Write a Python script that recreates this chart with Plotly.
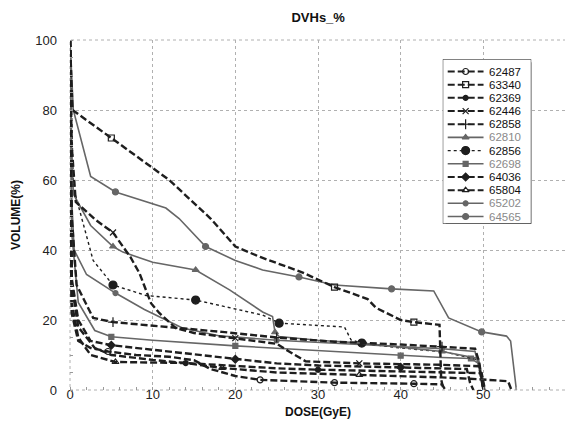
import plotly.graph_objects as go

# ---------------- data (dose in GyE, volume in %) ----------------
series_names = ["62487", "63340", "62369", "62446", "62858", "62810",
                "62856", "62698", "64036", "65804", "65202", "64565"]

x_62487 = [0, 0.2, 1, 2.5, 4.6, 8, 12, 15, 17, 20, 23, 32, 41.6, 45, 45.4]
y_62487 = [100, 22, 14, 12, 11, 10, 9.5, 8.5, 6, 4, 2.9, 2.1, 1.8, 1.6, 0]

x_63340 = [0, 0.3, 5, 12, 17, 20, 23, 28, 32, 36, 37, 40, 41.6, 44.7, 44.9, 45.2]
y_63340 = [100, 80, 72, 60, 49, 41, 38, 33.7, 29.4, 26, 23.5, 20, 19.4, 18.6, 3, 0]

x_62369 = [0, 0.2, 1, 3, 5, 10, 14, 20, 25, 30, 40, 46, 49.8, 50.2]
y_62369 = [100, 30, 18, 12, 10, 8.6, 7.7, 6.8, 6.2, 5.8, 5.4, 5.1, 4.8, 0]

x_62446 = [0, 0.2, 0.7, 3.1, 5.2, 7.3, 8.4, 9.2, 9.8, 10.8, 12.8, 15, 20, 25, 26.5, 28.5, 35, 45, 49.5, 50]
y_62446 = [100, 70, 53.7, 48.6, 45, 38, 33.4, 28.6, 24.8, 22, 17.7, 16.3, 14.8, 13.2, 11, 8.2, 7.6, 7.2, 6.8, 0]

x_62858 = [0, 0.2, 0.8, 2.8, 5.2, 13.6, 18.4, 25, 32, 40, 45, 49, 49.5, 50]
y_62858 = [100, 50, 30, 20.6, 19.4, 17.7, 16.6, 15, 13.8, 13, 12.4, 11.8, 8, 0]

x_62810 = [0, 0.2, 0.4, 2.5, 5.2, 6.4, 10, 15.2, 19.3, 23.3, 24.5, 24.8, 25.3, 30, 35.3, 40, 45, 49.4, 50]
y_62810 = [100, 70, 56, 47, 41, 39.4, 36.5, 34.3, 28.6, 22.3, 21, 16.5, 15.3, 14.2, 13.4, 12.2, 11, 9, 0]

x_62856 = [0, 0.2, 0.4, 2.8, 5.2, 9.2, 15.2, 23.3, 25.3, 33.2, 34, 35.3, 40, 45.3, 49.4, 50]
y_62856 = [100, 75, 58, 37, 30, 27, 25.7, 21.4, 19.1, 18, 14.3, 13.4, 12, 10.9, 8.6, 0]

x_62698 = [0, 0.2, 1, 3, 5, 10, 20, 30, 40, 45, 48.5, 49.5, 50.2]
y_62698 = [100, 45, 25, 17, 15.2, 14.2, 12.6, 11.2, 9.8, 9.3, 9, 7.5, 0]

x_64036 = [0, 0.2, 1, 2.5, 5, 10, 15, 20, 25, 30, 40, 45, 48, 48.4, 48.8]
y_64036 = [100, 32, 20, 14, 12.8, 11.5, 10.3, 8.8, 7.6, 7, 6.5, 6.2, 6, 2, 0]

x_65804 = [0, 0.2, 1, 2.5, 5.5, 14, 18.4, 25, 35, 45, 50, 53, 53.4]
y_65804 = [100, 25, 15, 10, 8, 7.7, 6.3, 5, 4.3, 3.6, 3, 2.5, 0]

x_65202 = [0, 0.2, 0.5, 2, 5.5, 9, 13.6, 18, 25, 30, 35, 40, 45, 49, 49.5, 50]
y_65202 = [100, 55, 40, 33, 27.7, 23, 17.7, 15.5, 14.2, 13.6, 13, 12.5, 11.8, 11, 6, 0]

x_64565 = [0, 0.4, 2.5, 5.5, 11.6, 13.2, 16.4, 20, 23.3, 27.7, 32, 35.3, 38.9, 44, 45.8, 49.8, 52.8, 53.3, 54]
y_64565 = [100, 80, 61, 56.6, 52, 49, 41, 37, 34.3, 32.3, 30, 29.4, 28.9, 28.3, 20.6, 16.6, 15.4, 14, 0]

x_ticks = [0, 10, 20, 30, 40, 50, 60]
y_ticks = [0, 20, 40, 60, 80, 100]

data = {
    "62487": (x_62487, y_62487), "63340": (x_63340, y_63340),
    "62369": (x_62369, y_62369), "62446": (x_62446, y_62446),
    "62858": (x_62858, y_62858), "62810": (x_62810, y_62810),
    "62856": (x_62856, y_62856), "62698": (x_62698, y_62698),
    "64036": (x_64036, y_64036), "65804": (x_65804, y_65804),
    "65202": (x_65202, y_65202), "64565": (x_64565, y_64565),
}

# ---------------- styles ----------------
BLK = "#1e1e1e"
GRY = "#666666"
GRID = "#b0b0b0"
FONT = "Liberation Sans, Arial"
styles = {
    "62487": dict(color=BLK, dash="7px,3px", width=2.4, symbol="circle-open", size=6, gray=False, marks=[4, 10, 11, 12]),
    "63340": dict(color=BLK, dash="7px,3px", width=2.4, symbol="square-open", size=6, gray=False, marks=[2, 8, 12]),
    "62369": dict(color=BLK, dash="7px,3px", width=2.4, symbol="circle", size=5, gray=False, marks=[6, 9]),
    "62446": dict(color=BLK, dash="7px,3px", width=2.4, symbol="x-thin-open", size=6, gray=False, marks=[4, 12, 16]),
    "62858": dict(color=BLK, dash="7px,3px", width=2.4, symbol="cross-thin-open", size=7, gray=False, marks=[4, 7, 10]),
    "62810": dict(color=GRY, dash="solid", width=1.6, symbol="triangle-up", size=6, gray=True, marks=[4, 7, 11, 16]),
    "62856": dict(color=BLK, dash="dot", width=1.4, symbol="circle", size=8, gray=False, marks=[4, 6, 8, 11]),
    "62698": dict(color=GRY, dash="solid", width=1.6, symbol="square", size=5, gray=True, marks=[4, 6, 8, 10]),
    "64036": dict(color=BLK, dash="7px,3px", width=2.4, symbol="diamond", size=6, gray=False, marks=[4, 7, 10]),
    "65804": dict(color=BLK, dash="7px,3px", width=2.4, symbol="triangle-up-open", size=6, gray=False, marks=[4, 6, 8]),
    "65202": dict(color=GRY, dash="solid", width=1.6, symbol="circle", size=5, gray=True, marks=[4, 8, 12]),
    "64565": dict(color=GRY, dash="solid", width=1.6, symbol="circle", size=6, gray=True, marks=[3, 6, 9, 12, 15]),
}

fig = go.Figure()

# main curves: drawn in reverse legend order so top-of-legend series lie on top
for name in series_names[::-1]:
    xs, ys = data[name]
    st = styles[name]
    op = [1 if i in st["marks"] else 0 for i in range(len(xs))]
    fig.add_trace(go.Scatter(
        x=xs, y=ys, mode="lines+markers", name=name, showlegend=False,
        line=dict(color=st["color"], dash=st["dash"], width=st["width"]),
        marker=dict(symbol=st["symbol"], size=st["size"], color=st["color"],
                    opacity=op, line=dict(width=1.2, color=st["color"])),
        cliponaxis=True, xaxis="x", yaxis="y",
    ))

# hand-built legend on its own small axes (entry i sits at y2 = i)
for i, name in enumerate(series_names):
    st = styles[name]
    fig.add_trace(go.Scatter(
        x=[5, 41], y=[i, i], mode="lines", showlegend=False, hoverinfo="skip",
        line=dict(color=st["color"], dash=st["dash"], width=min(st["width"], 2.0)),
        xaxis="x2", yaxis="y2",
    ))
    fig.add_trace(go.Scatter(
        x=[23], y=[i], mode="markers", showlegend=False, hoverinfo="skip",
        marker=dict(symbol=st["symbol"], size=st["size"], color=st["color"],
                    line=dict(width=1.2, color=st["color"])),
        xaxis="x2", yaxis="y2",
    ))
    fig.add_annotation(
        x=44, y=i, xref="x2", yref="y2", text=name, showarrow=False,
        xanchor="left", yanchor="middle",
        font=dict(family=FONT, size=11.5,
                  color="#8a8a8a" if st["gray"] else "#111111"),
    )

# legend box with shadow
fig.add_shape(type="rect", xref="x2", yref="y2", x0=3, x1=92, y0=-0.70, y1=11.78,
              fillcolor="#222222", line=dict(width=0), layer="below")
fig.add_shape(type="rect", xref="x2", yref="y2", x0=0, x1=89, y0=-0.93, y1=11.55,
              fillcolor="white", line=dict(color="#222222", width=1), layer="below")

# dotted plot frame
fig.add_shape(type="rect", xref="paper", yref="paper", x0=0, x1=1, y0=0, y1=1,
              line=dict(color=GRID, width=1, dash="dot"), layer="below")

# The page body has an 8px margin, so the figure is sized/placed to compensate.
fig.update_layout(
    width=565, height=431,
    margin=dict(l=59, r=7, t=32, b=49),
    paper_bgcolor="white", plot_bgcolor="white",
    showlegend=False,
    title=dict(text="<b>DVHs_%</b>", x=0.549, xanchor="center", y=0.977, yanchor="middle",
               font=dict(family=FONT, size=13, color="#111")),
    xaxis=dict(range=[0, 60], tickvals=x_ticks, showgrid=True, griddash="dot",
               gridcolor=GRID, gridwidth=1, zeroline=False, showline=False,
               ticks="", mirror="ticks", ticklabelstandoff=-5,
               minor=dict(dtick=2, ticks="inside", ticklen=3, tickcolor="#999", showgrid=False),
               tickfont=dict(family=FONT, size=13, color="#222"),
               title=dict(text="<b>DOSE(GyE)</b>", standoff=6,
                          font=dict(family=FONT, size=12, color="#111"))),
    yaxis=dict(range=[0, 100], tickvals=y_ticks, showgrid=True, griddash="dot",
               gridcolor=GRID, gridwidth=1, zeroline=False, showline=False,
               ticks="", mirror="ticks", ticklabelstandoff=12,
               minor=dict(dtick=5, ticks="inside", ticklen=3, tickcolor="#999", showgrid=False),
               tickfont=dict(family=FONT, size=13, color="#222"),
               title=dict(text="<b>VOLUME(%)</b>", standoff=12,
                          font=dict(family=FONT, size=12, color="#111"))),
    xaxis2=dict(domain=[0.7515, 0.930], range=[0, 89], visible=False, fixedrange=True,
                anchor="y2"),
    yaxis2=dict(domain=[0.475, 0.945], range=[11.55, -0.93], visible=False, fixedrange=True,
                anchor="x2"),
)

fig.write_html("out.html")
